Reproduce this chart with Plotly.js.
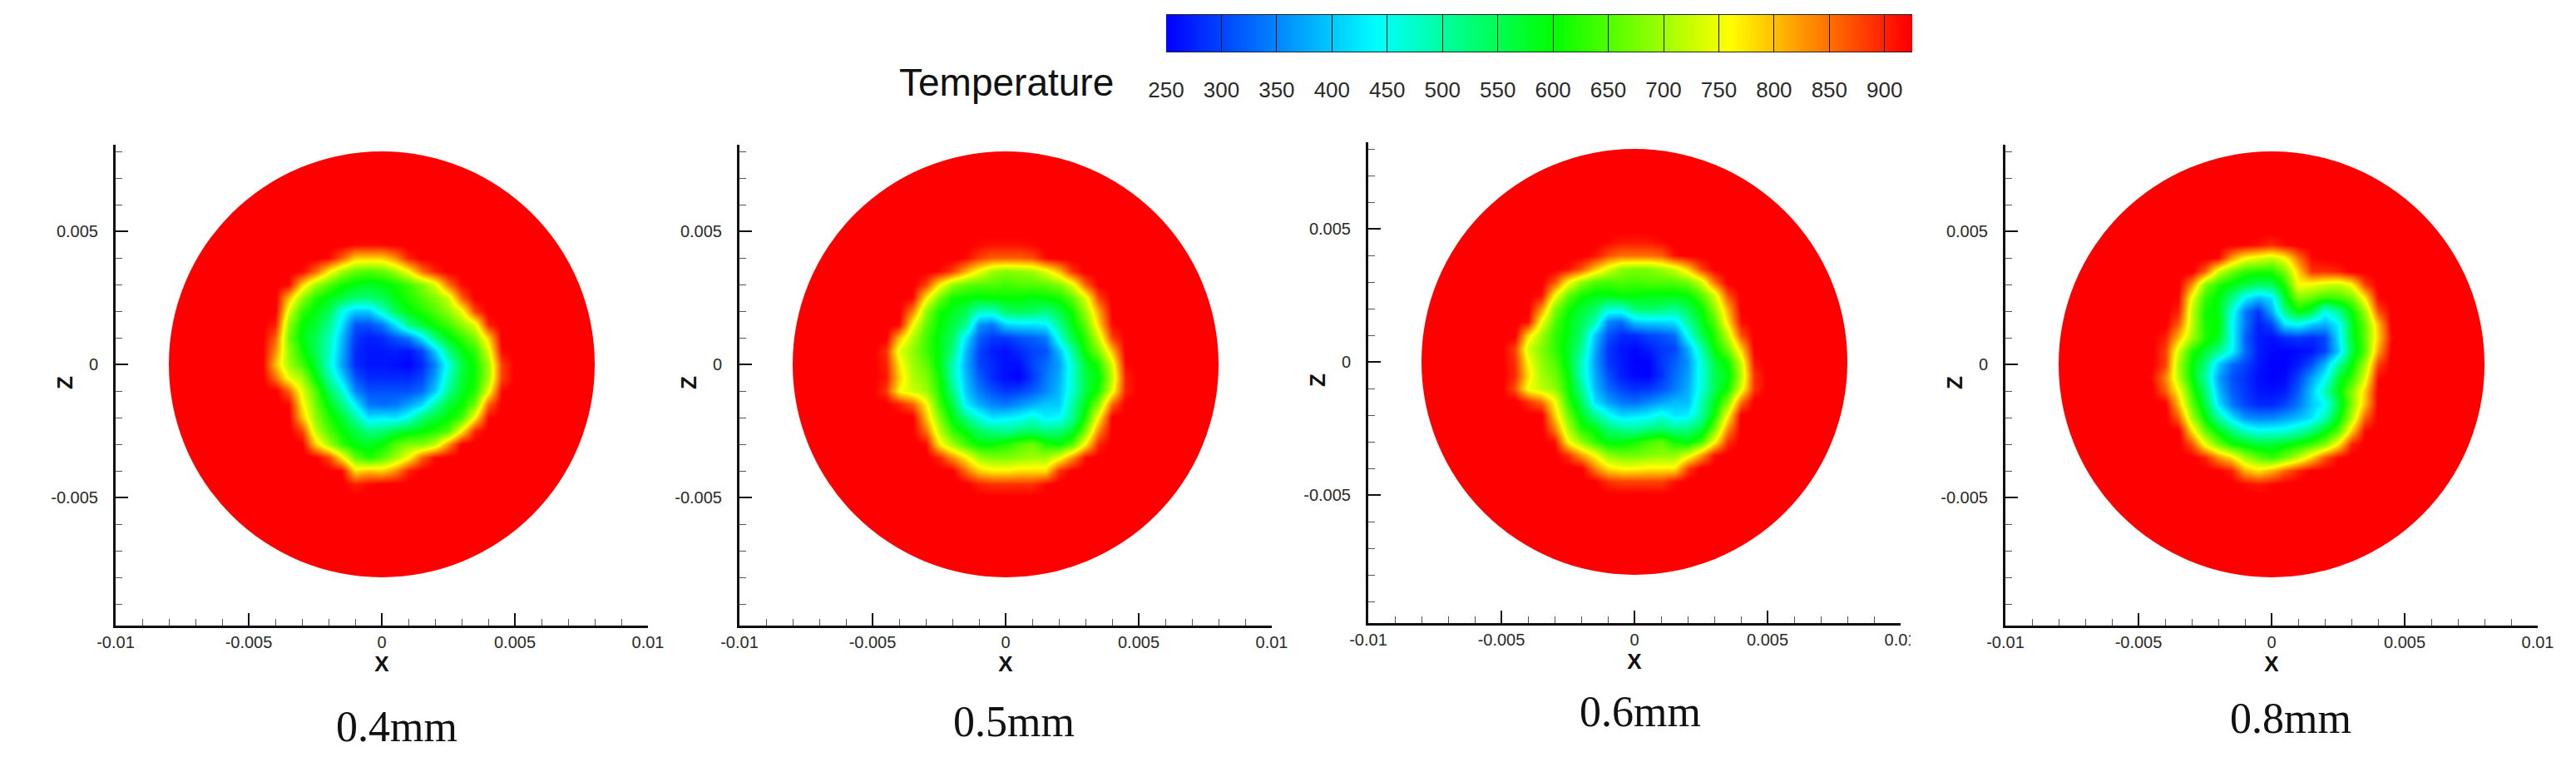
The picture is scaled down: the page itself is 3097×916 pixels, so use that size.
<!DOCTYPE html>
<html><head><meta charset="utf-8"><script src="https://cdn.plot.ly/plotly-3.0.1.min.js"></script>
<style>html,body{margin:0;padding:0;background:#fff}</style></head><body><div id="chart" style="width:3097px;height:916px"></div>
<script>
const panelLabels = ["0.4mm","0.5mm","0.6mm","0.8mm"];
const gridX = [-0.005,-0.0045,-0.004,-0.0035,-0.003,-0.0025,-0.002,-0.0015,-0.001,-0.0005,0,0.0005,0.001,0.0015,0.002,0.0025,0.003,0.0035,0.004,0.0045,0.005];
const gridZTopDown = [0.005,0.0045,0.004,0.0035,0.003,0.0025,0.002,0.0015,0.001,0.0005,0,-0.0005,-0.001,-0.0015,-0.002,-0.0025,-0.003,-0.0035,-0.004,-0.0045,-0.005];
const temp04 = [
[925,925,925,925,925,925,925,925,925,925,925,925,925,925,925,925,925,925,925,925,925],
[925,925,925,925,925,925,925,925,915,915,915,920,925,925,925,925,925,925,925,925,925],
[925,925,925,925,925,925,915,860,790,790,790,830,900,925,925,925,925,925,925,925,925],
[925,925,925,925,915,860,770,700,660,650,660,700,760,850,900,925,925,925,925,925,925],
[925,925,925,915,790,700,650,610,590,580,590,610,640,680,740,850,915,925,925,925,925],
[925,925,925,800,690,620,590,560,530,530,550,590,620,650,680,730,860,925,925,925,925],
[925,925,925,740,630,590,550,450,400,400,470,550,590,620,650,690,750,880,925,925,925],
[925,925,900,690,600,570,510,420,310,310,340,420,520,570,610,640,690,740,900,925,925],
[925,925,860,670,590,550,490,390,290,270,280,310,340,420,530,590,630,680,790,925,925],
[925,925,830,690,610,550,480,380,280,265,265,270,265,300,400,520,590,630,740,915,925],
[925,925,800,700,640,570,470,370,280,265,265,260,250,280,350,460,560,610,700,880,925],
[925,925,850,750,700,600,500,410,310,280,280,280,280,300,370,480,570,610,700,880,925],
[925,925,925,860,740,650,550,470,350,310,310,310,310,330,400,510,580,620,750,915,925],
[925,925,925,915,770,670,590,520,430,340,330,340,370,410,500,570,600,670,860,925,925],
[925,925,925,925,800,690,620,570,500,420,430,420,460,530,570,600,640,770,915,925,925],
[925,925,925,925,880,720,650,600,560,520,530,560,580,600,620,650,770,900,925,925,925],
[925,925,925,925,925,790,700,630,590,580,600,650,680,680,720,830,925,925,925,925,925],
[925,925,925,925,925,925,880,770,660,620,650,700,760,860,915,925,925,925,925,925,925],
[925,925,925,925,925,925,925,915,780,800,790,830,900,925,925,925,925,925,925,925,925],
[925,925,925,925,925,925,925,925,900,915,925,925,925,925,925,925,925,925,925,925,925],
[925,925,925,925,925,925,925,925,925,925,925,925,925,925,925,925,925,925,925,925,925]];
const temp05 = [
[925,925,925,925,925,925,925,925,925,925,925,925,925,925,925,925,925,925,925,925,925],
[925,925,925,925,925,925,925,925,915,910,910,910,915,925,925,925,925,925,925,925,925],
[925,925,925,925,925,925,925,915,880,860,860,860,870,915,925,925,925,925,925,925,925],
[925,925,925,925,925,915,880,810,750,700,680,690,700,740,800,890,925,925,925,925,925],
[925,925,925,925,880,770,690,660,650,650,640,650,650,660,680,740,860,925,925,925,925],
[925,925,925,915,770,670,610,600,590,600,600,600,590,600,610,660,740,880,925,925,925],
[925,925,925,840,690,610,580,550,480,480,540,550,540,520,560,610,700,820,925,925,925],
[925,925,915,760,660,600,560,510,360,340,410,420,420,430,510,590,660,790,915,925,925],
[925,925,800,710,640,590,540,420,320,290,290,310,320,340,460,560,630,730,880,925,925],
[925,890,740,690,640,590,520,390,300,270,260,280,300,310,390,500,610,680,800,925,925],
[925,900,770,700,660,590,490,380,300,280,260,260,300,330,370,470,570,620,740,915,925],
[925,905,790,710,680,610,490,390,320,280,260,250,290,340,380,470,560,600,720,900,925],
[925,885,760,730,700,620,520,400,340,310,290,300,320,350,390,470,560,620,750,900,925],
[925,925,900,860,770,640,560,430,380,350,340,360,380,400,400,500,590,690,860,925,925],
[925,925,925,925,800,680,590,520,460,420,430,440,470,430,440,510,620,770,925,925,925],
[925,925,925,925,850,720,630,590,540,520,510,530,540,520,530,570,680,840,925,925,925],
[925,925,925,925,915,770,700,640,600,600,620,650,670,620,600,650,770,900,925,925,925],
[925,925,925,925,925,900,830,770,700,680,680,690,700,700,750,830,915,925,925,925,925],
[925,925,925,925,925,925,925,850,790,770,770,780,780,780,890,925,925,925,925,925,925],
[925,925,925,925,925,925,925,925,900,890,890,890,890,915,925,925,925,925,925,925,925],
[925,925,925,925,925,925,925,925,925,925,925,925,925,925,925,925,925,925,925,925,925]];
const temp06 = [
[925,925,925,925,925,925,925,925,925,925,925,925,925,925,925,925,925,925,925,925,925],
[925,925,925,925,925,925,925,925,915,905,905,905,915,925,925,925,925,925,925,925,925],
[925,925,925,925,925,925,925,910,870,850,850,850,860,910,925,925,925,925,925,925,925],
[925,925,925,925,925,910,870,800,740,690,680,680,700,730,790,880,925,925,925,925,925],
[925,925,925,925,870,760,690,650,640,650,640,650,650,650,670,730,850,925,925,925,925],
[925,925,925,910,760,660,610,590,590,600,600,590,590,590,600,650,730,870,925,925,925],
[925,925,925,830,680,610,570,540,470,470,530,540,530,510,550,600,690,810,925,925,925],
[925,925,910,750,650,590,550,490,350,330,400,410,410,420,500,580,650,780,910,925,925],
[925,925,780,700,630,590,530,400,310,280,280,300,310,330,450,550,620,720,870,925,925],
[925,880,730,680,630,580,510,380,290,265,255,270,290,300,380,490,600,670,790,925,925],
[925,890,760,690,650,580,480,370,290,270,250,250,290,320,360,460,560,610,730,910,925],
[925,895,780,700,670,600,480,380,310,270,255,250,285,330,370,460,550,590,710,890,925],
[925,870,750,720,690,610,510,390,330,300,285,290,310,340,380,460,550,610,740,890,925],
[925,925,890,850,760,630,550,420,370,340,330,350,370,390,390,490,580,680,850,925,925],
[925,925,925,925,790,670,580,510,450,410,420,430,460,420,430,500,610,760,925,925,925],
[925,925,925,925,840,710,620,590,530,510,500,520,530,510,520,560,670,830,925,925,925],
[925,925,925,925,910,760,690,630,590,590,610,640,660,610,590,640,760,890,925,925,925],
[925,925,925,925,925,890,820,760,690,670,670,680,690,690,740,820,910,925,925,925,925],
[925,925,925,925,925,925,925,840,780,760,760,770,770,770,880,925,925,925,925,925,925],
[925,925,925,925,925,925,925,925,890,880,880,880,880,910,925,925,925,925,925,925,925],
[925,925,925,925,925,925,925,925,925,925,925,925,925,925,925,925,925,925,925,925,925]];
const temp08 = [
[925,925,925,925,925,925,925,925,925,925,925,925,925,925,925,925,925,925,925,925,925],
[925,925,925,925,925,925,925,925,920,910,895,915,925,925,925,925,925,925,925,925,925],
[925,925,925,925,925,925,915,820,760,740,720,760,850,915,925,925,925,925,925,925,925],
[925,925,925,925,925,860,730,670,630,620,620,680,790,890,890,900,925,925,925,925,925],
[925,925,925,925,830,680,620,590,560,540,550,620,760,750,730,720,760,880,925,925,925],
[925,925,925,915,750,630,590,520,430,390,420,580,680,660,630,640,670,770,915,925,925],
[925,925,925,900,720,610,590,460,340,290,380,520,600,560,450,510,600,700,870,925,925],
[925,925,925,860,720,610,600,440,340,270,300,420,440,400,380,430,580,660,800,925,925],
[925,925,900,800,700,620,580,450,320,270,260,280,290,280,300,420,570,660,790,915,925],
[925,925,880,730,620,570,510,440,330,270,255,250,255,265,300,400,560,650,820,925,925],
[925,925,880,700,600,520,400,330,300,265,250,250,270,310,390,500,600,700,880,925,925],
[925,915,840,710,600,500,370,310,285,260,250,255,300,370,440,570,630,740,915,925,925],
[925,925,860,760,630,530,390,320,290,265,260,270,320,400,490,590,680,790,925,925,925],
[925,925,925,800,660,560,420,340,300,280,280,300,340,400,440,560,680,800,925,925,925],
[925,925,925,860,700,600,500,420,360,350,350,370,390,420,490,590,710,860,925,925,925],
[925,925,925,925,780,660,590,530,480,450,460,460,490,530,590,650,790,915,925,925,925],
[925,925,925,925,870,750,670,610,590,570,570,590,610,640,680,770,900,925,925,925,925],
[925,925,925,925,925,900,830,780,700,660,630,670,720,790,870,915,925,925,925,925,925],
[925,925,925,925,925,925,925,900,810,780,810,860,900,925,925,925,925,925,925,925,925],
[925,925,925,925,925,925,925,925,915,905,915,925,925,925,925,925,925,925,925,925,925],
[925,925,925,925,925,925,925,925,925,925,925,925,925,925,925,925,925,925,925,925,925]];
const tempSeries = [temp04,temp05,temp06,temp08];
const legendValues = [250,300,350,400,450,500,550,600,650,700,750,800,850,900,925];
const legendTicks = [250,300,350,400,450,500,550,600,650,700,750,800,850,900];
const axisTicks = [-0.01,-0.005,0,0.005,0.01];
const axisTickText = ["-0.01","-0.005","0","0.005","0.01"];
const diskRadius = 0.008;

const W=3097,H=916;
const panels=[{cx:459,cy:438,ly:752,lbl:[477,873]},{cx:1209,cy:438,ly:752,lbl:[1219,867]},{cx:1965,cy:435,ly:749,lbl:[1972,855]},{cx:2731,cy:438,ly:752,lbl:[2754,863]}];
const pxPerUnit=32000, axisTop=174;
const cs=[[0,'rgb(0,0,255)'],[(440-250)/675,'rgb(0,255,255)'],[(600-250)/675,'rgb(0,255,0)'],[(760-250)/675,'rgb(255,255,0)'],[(920-250)/675,'rgb(255,0,0)'],[1,'rgb(255,0,0)']];
const gridZ=gridZTopDown.slice().reverse();
const traces=[],shapes=[],annotations=[];
const layout={width:W,height:H,autosize:false,margin:{l:0,r:0,t:0,b:0,pad:0},paper_bgcolor:'#fff',plot_bgcolor:'rgba(0,0,0,0)',showlegend:false,font:{family:'"Liberation Sans",Arial,sans-serif',color:'#222'}};
panels.forEach((p,i)=>{
  const n=i===0?'':String(i+1);
  const left=p.cx-320,right=p.cx+320;
  const axTop=axisTop+(p.cy-438);
  const baseAxis={tickmode:'array',tickvals:axisTicks,ticktext:axisTickText,ticks:'inside',ticklen:15,tickwidth:2.5,tickcolor:'#111',showline:true,linecolor:'#111',linewidth:3,showgrid:false,zeroline:false,tickfont:{size:20,color:'#2a2a2a'},
    minor:{tickmode:'linear',tick0:0,dtick:0.001,ticks:'inside',ticklen:8,tickwidth:1,tickcolor:'#555',showgrid:false}};
  layout['xaxis'+n]=Object.assign({},baseAxis,{domain:[left/W,right/W],range:[-0.01,0.01],anchor:'y'+n,title:{text:'<b>X</b>',font:{size:26,color:'#111'},standoff:1}});
  layout['yaxis'+n]=Object.assign({},baseAxis,{domain:[1-p.ly/H,1-axTop/H],range:[-(p.ly-p.cy)/pxPerUnit,(p.cy-axTop)/pxPerUnit],anchor:'x'+n,ticklabelstandoff:14});
  shapes.push({type:'circle',xref:'x'+n,yref:'y'+n,x0:-diskRadius,x1:diskRadius,y0:-diskRadius,y1:diskRadius,fillcolor:'rgb(255,0,0)',line:{width:0},layer:'below'});
  traces.push({type:'heatmap',x:gridX,y:gridZ,z:tempSeries[i].slice().reverse(),xaxis:'x'+n,yaxis:'y'+n,zsmooth:'best',colorscale:cs,zmin:250,zmax:925,showscale:false,hoverinfo:'skip'});
  annotations.push({xref:'paper',yref:'paper',x:(left-61)/W,y:1-(460+(p.cy-438))/H,text:'<b>Z</b>',textangle:-90,showarrow:false,xanchor:'center',yanchor:'middle',font:{size:26,color:'#111'}});
  annotations.push({xref:'paper',yref:'paper',x:p.lbl[0]/W,y:1-p.lbl[1]/H,text:panelLabels[i],showarrow:false,xanchor:'center',yanchor:'middle',font:{family:'"Liberation Serif",serif',size:52,color:'#111'}});
});
// colour legend
layout.xaxis5={domain:[1402/W,2299/W],range:[250,925],anchor:'y5',tickmode:'array',tickvals:legendTicks,ticks:'inside',ticklen:44,tickwidth:1,tickcolor:'#111',showline:true,mirror:true,linecolor:'#222',linewidth:1,showgrid:false,zeroline:false,ticklabelstandoff:23,tickfont:{size:26,color:'#2a2a2a'},layer:'above traces'};
layout.yaxis5={domain:[1-62/H,1-18/H],range:[0,1],anchor:'x5',showticklabels:false,ticks:'',showline:false,showgrid:false,zeroline:false};
traces.push({type:'heatmap',x:legendValues,y:[0,1],z:[legendValues,legendValues],xaxis:'x5',yaxis:'y5',zsmooth:'best',colorscale:cs,zmin:250,zmax:925,showscale:false,hoverinfo:'skip'});
annotations.push({xref:'paper',yref:'paper',x:1210/W,y:1-99/H,text:'Temperature',showarrow:false,xanchor:'center',yanchor:'middle',font:{size:46,color:'#111'}});
// picture of panel 3 is clipped by panel 4's white backing
shapes.push({type:'rect',xref:'paper',yref:'paper',x0:2297/W,x1:2330/W,y0:1-800/H,y1:1-755/H,fillcolor:'#fff',line:{width:0},layer:'above'});
layout.shapes=shapes;layout.annotations=annotations;
Plotly.newPlot('chart',traces,layout,{displayModeBar:false,staticPlot:true});
</script></body></html>
